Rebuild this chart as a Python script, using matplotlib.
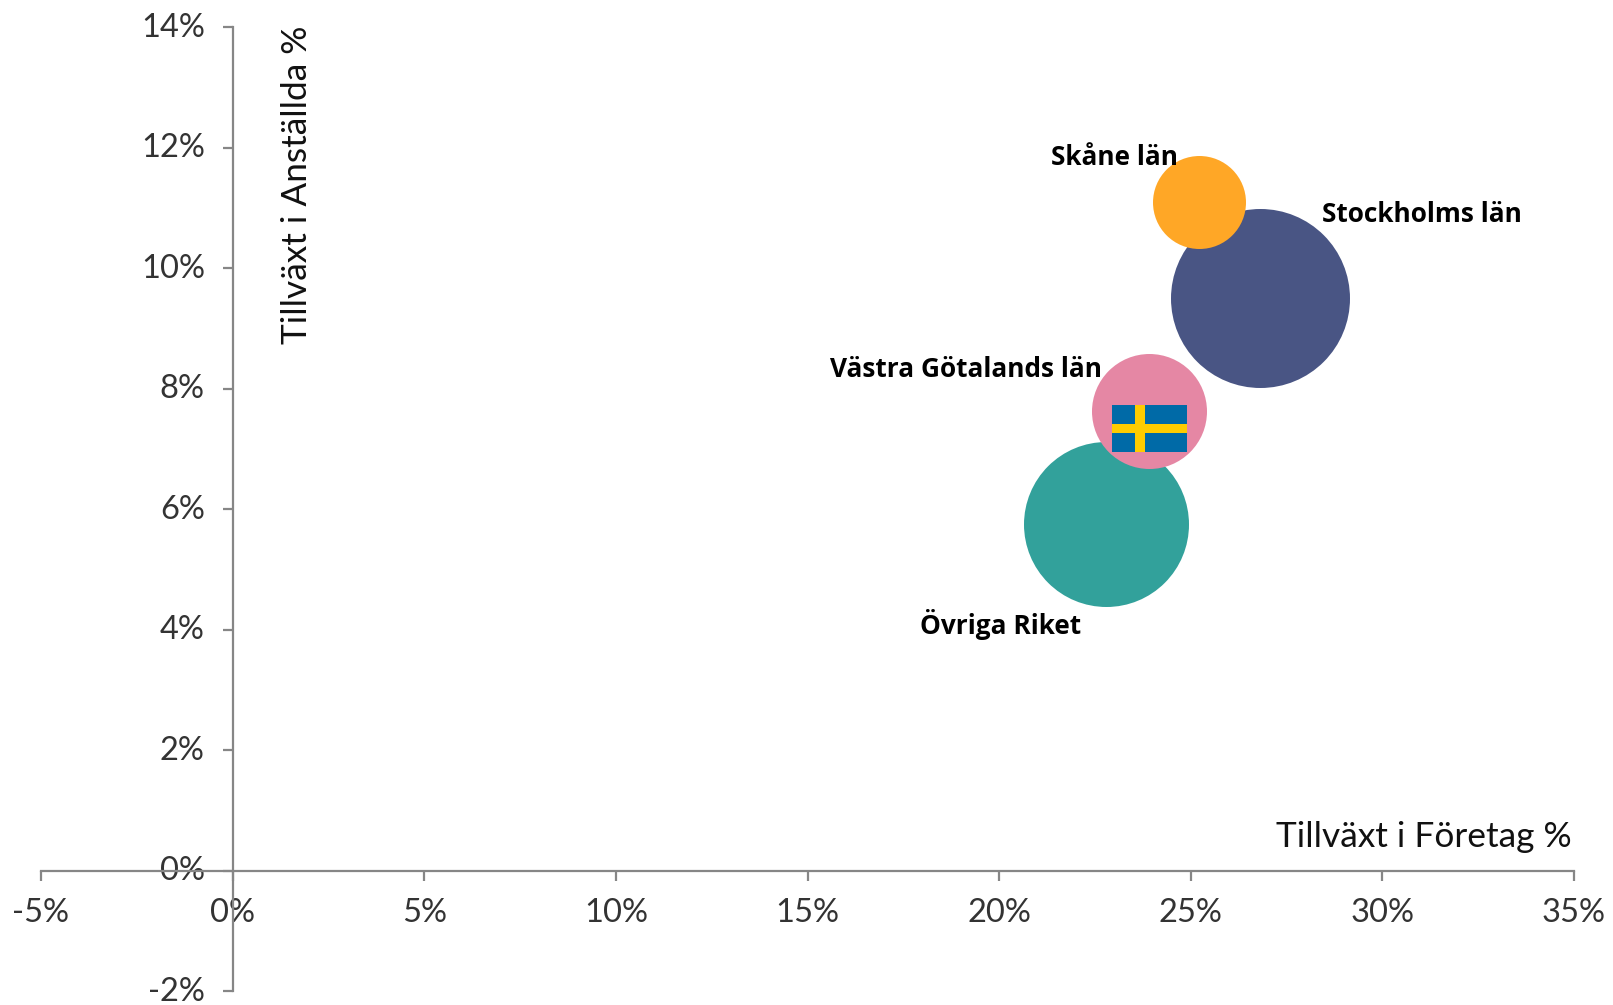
import matplotlib
matplotlib.use("Agg")
import matplotlib.pyplot as plt
from matplotlib.patches import Rectangle
from matplotlib.ticker import FuncFormatter
from matplotlib.transforms import ScaledTranslation

# values
regions = ["Stockholms län", "Övriga Riket", "Västra Götalands län", "Skåne län"]
foretag = [26.8, 22.8, 23.9, 25.21]
anstallda = [9.5, 5.75, 7.63, 11.1]
radius_px = [89.5, 82.5, 57.5, 46.5]
colors = ["#495584", "#32A19B", "#E587A4", "#FFA726"]
label_x = [28.42, 22.15, 22.68, 24.66]
label_y = [10.88, 4.08, 8.31, 11.83]
label_ha = ["left", "right", "right", "right"]

x_ticks = [-5, 0, 5, 10, 15, 20, 25, 30, 35]
y_ticks = [-2, 0, 2, 4, 6, 8, 10, 12, 14]

W, H = 1613, 1005
plt.rcParams["font.family"] = ["Lato", "DejaVu Sans"]

fig = plt.figure(figsize=(W / 100, H / 100), dpi=100)
# axes box in pixels: x -5..35 = 41..1574, y -2..14 = 991..27
ax = fig.add_axes([41 / W, 1 - 991 / H, (1574 - 41) / W, (991 - 27) / H])
ax.set_xlim(-5, 35)
ax.set_ylim(-2, 14)
ax.patch.set_alpha(0)

for s in ["top", "right"]:
    ax.spines[s].set_visible(False)
ax.spines["left"].set_position(("data", 0))
ax.spines["bottom"].set_position(("data", 0))
ax.spines["left"].set_color("#868686")
ax.spines["bottom"].set_color("#868686")
ax.spines["left"].set_linewidth(1.6)
ax.spines["bottom"].set_linewidth(1.6)

ax.set_xticks(x_ticks)
ax.set_yticks(y_ticks)
fmt = FuncFormatter(lambda v, p: f"{v:.0f}%")
ax.xaxis.set_major_formatter(fmt)
ax.yaxis.set_major_formatter(fmt)
ax.tick_params(axis="x", direction="out", length=7.5, width=1.6, color="#868686", labelsize=23.5, labelcolor="#333333", pad=12)
ax.tick_params(axis="y", direction="out", length=7.5, width=1.6, color="#868686", labelsize=23.5, labelcolor="#333333", pad=12.5)
# nudge y labels up so -2% stays on the canvas
up = ScaledTranslation(0, 1.5 / 72, fig.dpi_scale_trans)
for lab in ax.get_yticklabels():
    lab.set_transform(lab.get_transform() + up)

# marker size in points^2 from the radius in pixels
for x, y, r, c in zip(foretag, anstallda, radius_px, colors):
    d_pt = 2 * r * 72 / 100
    ax.scatter(x, y, s=d_pt ** 2, color=c, linewidths=0, zorder=3, clip_on=False)

for name, x, y, ha in zip(regions, label_x, label_y, label_ha):
    ax.text(x, y, name, fontsize=18.9, fontweight="bold", family=["Open Sans", "DejaVu Sans"], ha=ha, va="center", color="black", zorder=5)

# Swedish flag on the Västra Götaland bubble
ax.add_patch(Rectangle((22.95, 6.95), 1.96, 0.78, facecolor="#006AA7", linewidth=0, zorder=4))
ax.add_patch(Rectangle((23.55, 6.95), 0.245, 0.78, facecolor="#FECC00", linewidth=0, zorder=5))
ax.add_patch(Rectangle((22.95, 7.26), 1.96, 0.155, facecolor="#FECC00", linewidth=0, zorder=5))

ax.text(34.93, 0.55, "Tillväxt i Företag %", fontsize=25.4, ha="right", va="center", color="#111111")
ax.text(1.67, 14.03, "Tillväxt i Anställda %", fontsize=25.4, rotation=90, ha="center", va="top", color="#111111")

plt.savefig("out.png", dpi=100)
plt.close()
